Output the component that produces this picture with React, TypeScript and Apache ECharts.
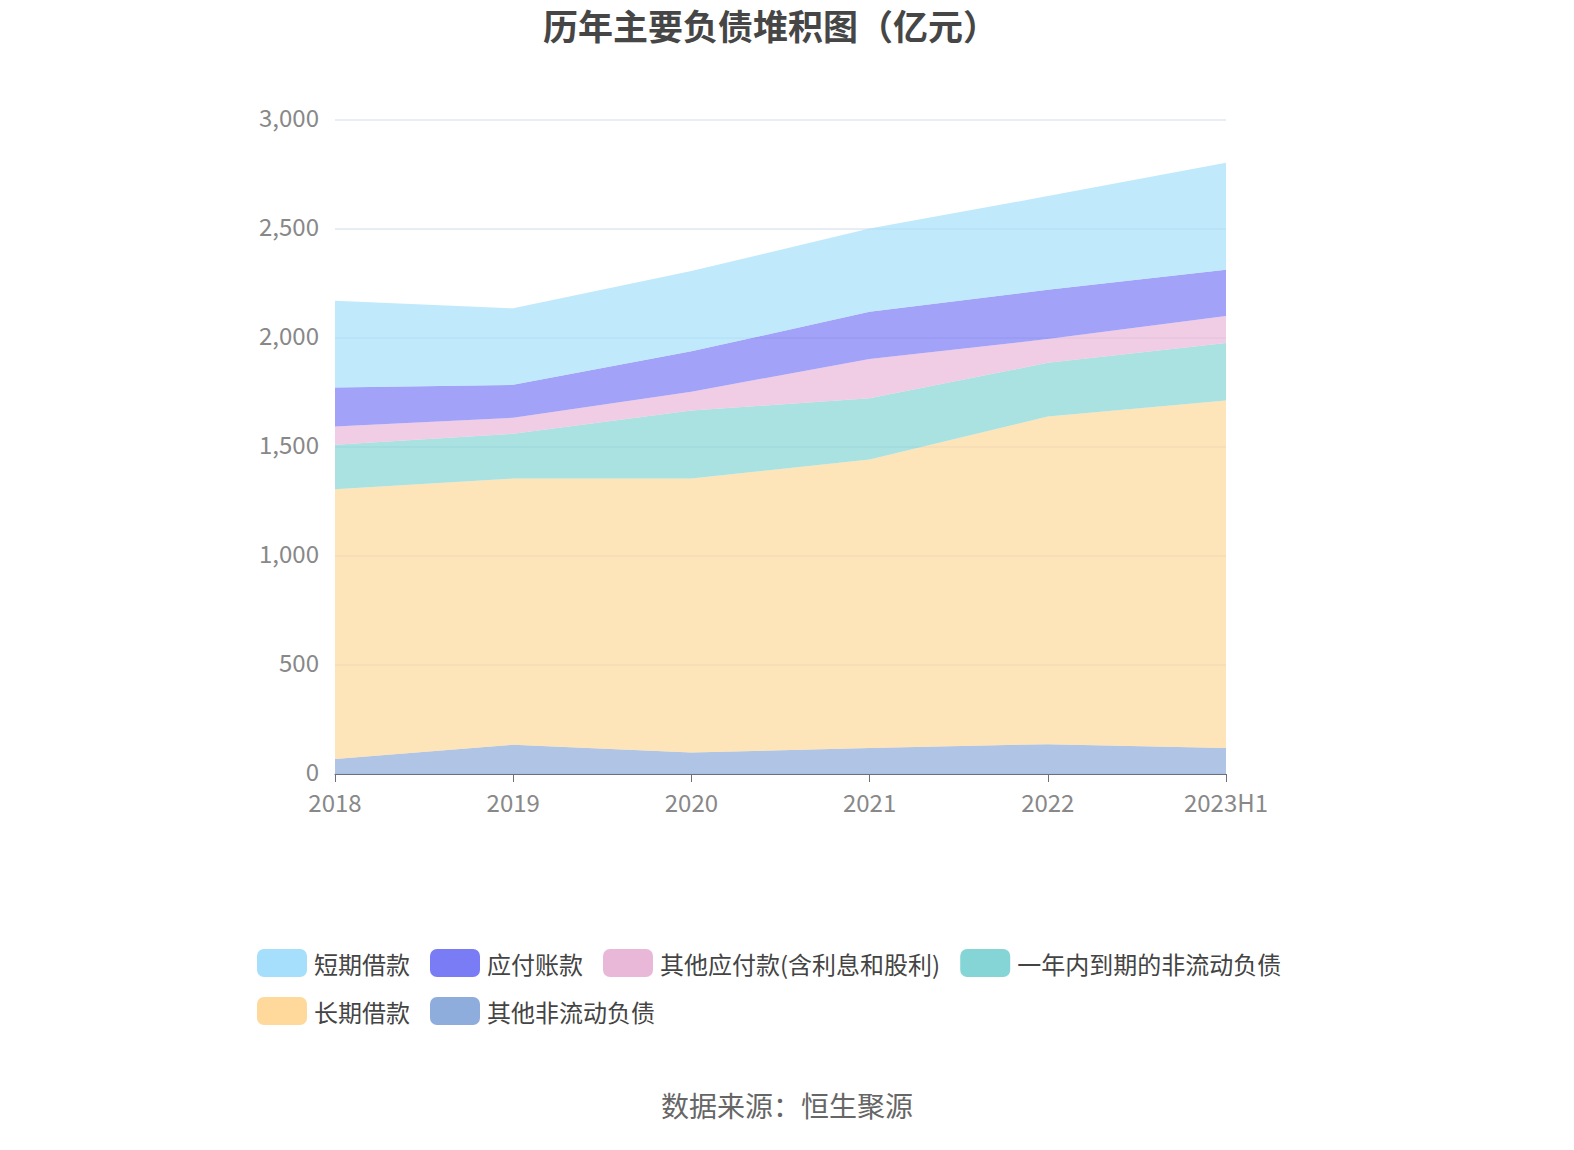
import React, { useEffect, useRef } from "react";
import * as echarts from "echarts";

const categories = ["2018", "2019", "2020", "2021", "2022", "2023H1"];
const shortLoans = [398, 351, 368, 382, 430, 491];
const accountsPayable = [179, 151, 185, 216, 226, 212];
const otherPayables = [84, 73, 87, 180, 109, 124];
const currentNonCurrent = [204, 206, 312, 281, 246, 264];
const longLoans = [1237, 1221, 1256, 1324, 1503, 1594];
const otherNonCurrent = [69, 134, 99, 119, 137, 119];

const names = [
  "短期借款",
  "应付账款",
  "其他应付款(含利息和股利)",
  "一年内到期的非流动负债",
  "长期借款",
  "其他非流动负债",
];
const colors = ["#a5dffb", "#7a7cf5", "#e9b8d8", "#86d5d6", "#fed99b", "#8eaddc"];
const dataSets = [shortLoans, accountsPayable, otherPayables, currentNonCurrent, longLoans, otherNonCurrent];

export default function App() {
  const ref = useRef<HTMLDivElement>(null);
  useEffect(() => {
    if (!ref.current) return;
    const chart = echarts.init(ref.current, null, { renderer: "svg" });
    const font = "'Noto Sans CJK SC', 'Noto Sans', sans-serif";
    // bottom-first order for stacking
    const order = [5, 4, 3, 2, 1, 0];
    const series = order.map((i) => ({
      name: names[i],
      type: "line",
      stack: "total",
      data: dataSets[i],
      symbol: "none",
      lineStyle: { width: 0 },
      itemStyle: { color: colors[i] },
      areaStyle: { color: colors[i], opacity: 0.7 },
    }));
    chart.setOption({
      animation: false,
      title: {
        text: "历年主要负债堆积图（亿元）",
        left: 538,
        top: 2,
        textStyle: { fontFamily: font, fontSize: 35, fontWeight: "bold", color: "#464646" },
      },
      legend: {
        data: names,
        left: 252,
        top: 944,
        width: 1100,
        itemWidth: 50,
        itemHeight: 28,
        itemGap: 20,
        icon: "roundRect",
        textStyle: { fontFamily: font, fontSize: 24, color: "#444", padding: [0, 0, 0, 2] },
      },
      grid: { left: 335, right: 348, top: 120, bottom: 376, containLabel: false },
      xAxis: {
        type: "category",
        data: categories,
        boundaryGap: false,
        axisLine: { lineStyle: { color: "#6e7079" } },
        axisTick: { show: true, length: 8, lineStyle: { color: "#6e7079" } },
        axisLabel: { fontFamily: font, fontSize: 24, color: "#888", margin: 15 },
      },
      yAxis: {
        type: "value",
        min: 0,
        max: 3000,
        interval: 500,
        axisLine: { show: false },
        axisTick: { show: false },
        splitLine: { lineStyle: { color: "#e0e6f1", width: 1.5 } },
        axisLabel: {
          fontFamily: font,
          fontSize: 24,
          color: "#888",
          margin: 16,
          verticalAlign: "bottom",
          lineHeight: 8,
          formatter: (v: number) => v.toLocaleString("en-US"),
        },
      },
      graphic: [
        {
          type: "text",
          left: "center",
          top: 1091,
          style: { text: "数据来源：恒生聚源", fontFamily: font, fontSize: 28, fill: "#666" },
        },
      ],
      series,
    });
    return () => chart.dispose();
  }, []);
  return (
    <div
      ref={ref}
      style={{ position: "fixed", left: 0, top: 0, width: 1574, height: 1150, background: "#fff" }}
    />
  );
}
